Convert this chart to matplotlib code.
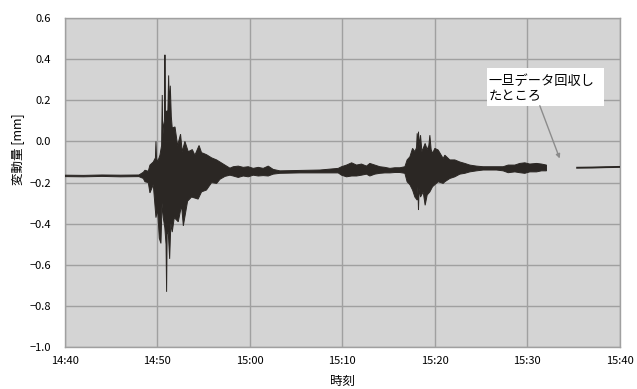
import numpy as np
import matplotlib
matplotlib.use("Agg")
import matplotlib.pyplot as plt
from matplotlib.patches import Rectangle

plt.rcParams['font.family'] = ['Noto Sans CJK JP', 'DejaVu Sans']

# ---- data (time in minutes after 14:40, displacement in mm) ----
x_ticks = [0, 10, 20, 30, 40, 50, 60]
x_ticklabels = ['14:40', '14:50', '15:00', '15:10', '15:20', '15:30', '15:40']
y_ticks = [-1.0, -0.8, -0.6, -0.4, -0.2, 0.0, 0.2, 0.4, 0.6]

# segment 1 (before data retrieval): upper envelope
upper_t = [0.0, 2.0, 4.0, 6.0, 8.0, 8.47, 8.65, 9.01, 9.19, 9.55, 9.78, 9.84, 9.90,
           10.02, 10.27, 10.45, 10.52, 10.58, 10.67, 10.76, 10.81, 10.86, 10.99,
           11.13, 11.21, 11.28, 11.39, 11.50, 11.60, 11.90, 12.18, 12.50, 12.68,
           12.97, 13.33, 13.77, 14.05, 14.50, 14.77, 14.96, 15.32, 15.86, 16.40,
           16.76, 17.30, 17.84, 18.20, 18.74, 19.28, 19.82, 20.36, 20.90, 21.44,
           21.98, 22.52, 23.24, 25.40, 27.57, 29.55, 29.91, 30.45, 31.00, 31.53,
           32.07, 32.61, 32.97, 33.51, 34.05, 34.59, 35.14, 35.68, 36.22, 36.76,
           37.00, 37.30, 37.59, 37.84, 38.02, 38.09, 38.16, 38.23, 38.30, 38.45,
           38.60, 38.74, 38.95, 39.17, 39.35, 39.46, 39.60, 39.75, 40.00, 40.36,
           40.90, 41.08, 41.62, 42.16, 42.70, 43.24, 43.78, 44.50, 45.23, 45.95,
           46.67, 47.39, 47.93, 48.65, 49.19, 49.73, 50.27, 51.00, 51.53, 52.07]
upper_v = [-0.164, -0.165, -0.163, -0.164, -0.163, -0.150, -0.140, -0.145, -0.115,
           -0.100, -0.080, 0.000, -0.080, -0.100, -0.067, -0.020, 0.225, 0.020,
           0.080, 0.100, 0.420, 0.150, 0.144, 0.150, 0.320, 0.180, 0.270, 0.120,
           0.065, 0.070, -0.020, 0.035, -0.050, 0.000, -0.050, -0.040, -0.067,
           -0.020, -0.055, -0.058, -0.065, -0.080, -0.090, -0.100, -0.115, -0.130,
           -0.123, -0.120, -0.126, -0.123, -0.131, -0.126, -0.131, -0.120, -0.136,
           -0.143, -0.141, -0.139, -0.131, -0.123, -0.115, -0.104, -0.115, -0.110,
           -0.120, -0.107, -0.115, -0.123, -0.126, -0.131, -0.128, -0.128, -0.123,
           -0.090, -0.075, -0.034, -0.050, -0.030, 0.039, -0.040, 0.047, -0.020,
           0.030, -0.050, -0.034, -0.010, -0.040, -0.020, 0.030, -0.040, -0.058,
           -0.034, -0.042, -0.083, -0.067, -0.090, -0.090, -0.100, -0.107, -0.115,
           -0.120, -0.123, -0.123, -0.123, -0.123, -0.115, -0.115, -0.107, -0.104,
           -0.110, -0.107, -0.110, -0.115]

# segment 1: lower envelope
lower_t = [0.0, 2.0, 4.0, 6.0, 8.0, 8.47, 8.65, 9.01, 9.19, 9.55, 9.84, 10.02,
           10.20, 10.38, 10.50, 10.63, 10.80, 10.93, 10.99, 11.05, 11.17, 11.32,
           11.45, 11.60, 11.82, 12.25, 12.61, 12.80, 13.26, 13.69, 14.40, 14.77,
           15.30, 15.86, 16.40, 16.76, 17.30, 17.84, 18.20, 18.74, 19.28,
           19.82, 20.36, 20.90, 21.44, 21.98, 22.52, 23.24, 25.40, 27.57, 29.55,
           29.91, 30.45, 31.00, 31.53, 32.07, 32.61, 32.97, 33.51, 34.05, 34.59,
           35.14, 35.68, 36.22, 36.76, 37.00, 37.30, 37.59, 37.84, 38.09, 38.16,
           38.23, 38.30, 38.45, 38.74, 38.95, 39.17, 39.46, 39.75, 40.00, 40.36,
           40.90, 41.08, 41.62, 42.16, 42.70, 43.24, 43.78, 44.50, 45.23, 45.95,
           46.67, 47.39, 47.93, 48.65, 49.19, 49.73, 50.27, 51.00, 51.53, 52.07]
lower_v = [-0.171, -0.172, -0.170, -0.172, -0.171, -0.180, -0.196, -0.200, -0.250,
           -0.210, -0.370, -0.330, -0.470, -0.495, -0.300, -0.370, -0.420, -0.500,
           -0.730, -0.450, -0.440, -0.570, -0.400, -0.440, -0.370, -0.390, -0.310,
           -0.410, -0.290, -0.270, -0.280, -0.245, -0.236, -0.200, -0.204,
           -0.184, -0.170, -0.164, -0.168, -0.175, -0.168, -0.172, -0.164, -0.168,
           -0.166, -0.168, -0.159, -0.155, -0.153, -0.153, -0.153, -0.164, -0.172,
           -0.168, -0.168, -0.164, -0.159, -0.168, -0.159, -0.155, -0.153, -0.153,
           -0.151, -0.151, -0.155, -0.196, -0.210, -0.236, -0.270, -0.285, -0.220,
           -0.333, -0.230, -0.270, -0.245, -0.310, -0.260, -0.245, -0.220, -0.210,
           -0.196, -0.204, -0.196, -0.180, -0.172, -0.159, -0.155, -0.148, -0.143,
           -0.139, -0.139, -0.139, -0.143, -0.152, -0.148, -0.152, -0.155, -0.148,
           -0.148, -0.143, -0.143]

# segment 2 (after data retrieval)
seg2_t = [55.39, 57.0, 58.5, 60.0]
seg2_v = [-0.128, -0.127, -0.125, -0.124]

# ---- figure ----
fig = plt.figure(figsize=(6.37, 3.89), dpi=100)
ax = fig.add_axes([0.102, 0.1067, 0.871, 0.8478])
ax.set_facecolor('#d4d4d4')

trace_color = '#2b2724'
poly_t = np.concatenate([upper_t, lower_t[::-1]])
poly_v = np.concatenate([upper_v, lower_v[::-1]])
ax.fill(poly_t, poly_v, color=trace_color, lw=0.7, zorder=3)
ax.plot(seg2_t, seg2_v, color=trace_color, lw=1.4, zorder=3)

ax.set_xlim(0, 60)
ax.set_ylim(-1.0, 0.6)
ax.set_xticks(x_ticks)
ax.set_xticklabels(x_ticklabels)
ax.set_yticks(y_ticks)
ax.set_yticklabels([f'{v:.1f}'.replace('-', '\u2212') for v in y_ticks])
ax.grid(True, color='#a0a0a0', lw=1.0, zorder=1)
ax.set_axisbelow(True)
for s in ax.spines.values():
    s.set_color('#a0a0a0')
    s.set_linewidth(1.0)
ax.tick_params(axis='both', length=0, labelsize=8, colors='black')
ax.tick_params(axis='y', pad=10)
ax.tick_params(axis='x', pad=6)

ax.set_xlabel('時刻', fontsize=9)
ax.xaxis.set_label_coords(0.5, -0.083)
ax.set_ylabel('変動量 [mm]', fontsize=9)
ax.yaxis.set_label_coords(-0.072, 0.6)

# annotation
ax.add_patch(Rectangle((45.6, 0.173), 12.67, 0.183, facecolor='white',
                       edgecolor='none', zorder=4))
ax.text(45.85, 0.322, '一旦データ回収し\nたところ', fontsize=9.5, va='top',
        ha='left', linespacing=1.2, zorder=5)
ax.annotate('', xy=(53.5, -0.083), xytext=(51.35, 0.173),
            arrowprops=dict(arrowstyle='-|>', color='#8c8c8c', lw=1.0,
                            mutation_scale=6, shrinkA=0, shrinkB=0),
            zorder=5)

fig.savefig('out.png', dpi=100)
